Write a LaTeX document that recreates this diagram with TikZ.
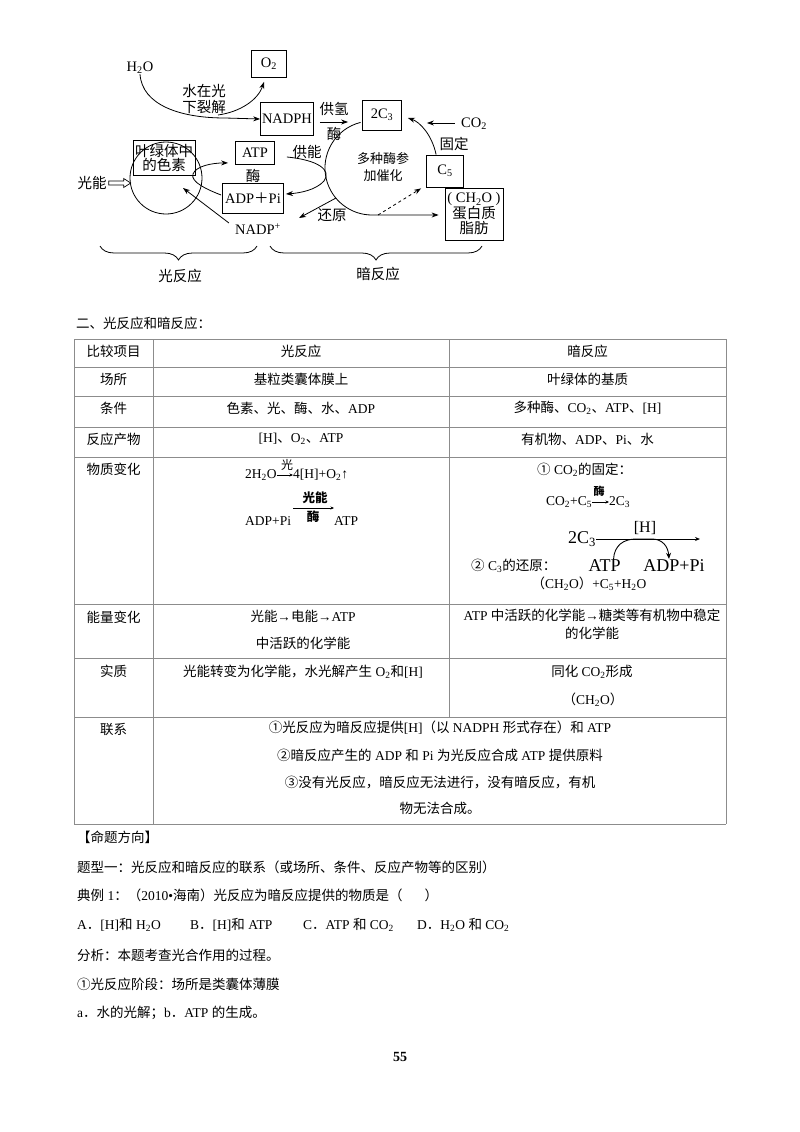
\documentclass[tikz,border=0pt]{standalone}
\usepackage{fontspec}
\setmainfont{Liberation Serif}
\newfontfamily\zh{Noto Sans CJK SC}
\usepackage{tikz}
\usetikzlibrary{arrows.meta, positioning, calc, decorations.pathreplacing}

% switch to the CJK font for Chinese characters automatically
\newcount\zhcnt
\newcommand\zhrange[2]{\zhcnt=#1\relax
  \loop\XeTeXcharclass\zhcnt=200\relax\ifnum\zhcnt<#2\relax\advance\zhcnt by 1\relax\repeat}
\zhrange{"4E00}{"9FFF}
\zhrange{"3000}{"303F}
\zhrange{"FF00}{"FFEF}
\zhrange{"2460}{"24FF}
\XeTeXinterchartoks 0 200 = {\zh}
\XeTeXinterchartoks 4095 200 = {\zh}
\XeTeXinterchartoks 200 0 = {\rmfamily}
\XeTeXinterchartoks 200 4095 = {\rmfamily}
\XeTeXinterchartokenstate=1

\newcommand\diagfont{\fontsize{14.5}{16}\selectfont}
\newcommand\cellfont{\fontsize{13.5}{16}\selectfont}
\newcommand\bigfont{\fontsize{18}{20}\selectfont}

\begin{document}
\begin{tikzpicture}[x=1pt, y=-1pt,
  box/.style={draw, line width=0.8pt, inner sep=0pt, font=\diagfont},
  lbl/.style={inner sep=0pt, font=\diagfont},
  arr/.style={line width=0.8pt, -{Stealth[length=7pt,width=5pt]}},
  thin arr/.style={line width=0.6pt, -{Stealth[length=3.5pt,width=3pt]}},
  cell/.style={inner sep=0pt, font=\cellfont},
  grid/.style={draw=black!45, line width=0.9pt},
  brc/.style={decorate, decoration={brace, mirror, amplitude=14pt}, line width=0.8pt},
]
\fill[white] (0,0) rectangle (800,1132);
\useasboundingbox (0,0) rectangle (800,1132);

% ---- photosynthesis diagram ----
\node[lbl] (h2o) at (140,68) {H\textsubscript{2}O};
\node[box, minimum width=35pt, minimum height=27pt] (o2) at (269,64) {O\textsubscript{2}};
\node[lbl, align=center, font=\fontsize{14.5}{16}\selectfont] (split) at (204,99) {水在光\\下裂解};
\node[box, minimum width=53pt, minimum height=33pt] (nadph) at (287,119) {NADPH};
\node[lbl] (gq) at (334,109) {供氢};
\node[lbl] (gqm) at (334,134) {酶};
\node[box, minimum width=39pt, minimum height=30pt] (c3) at (382,115) {2C\textsubscript{3}};
\node[lbl] (co2) at (474,124) {CO\textsubscript{2}};
\node[lbl] (gd) at (454,144) {固定};
\node[box, minimum width=37pt, minimum height=32pt] (c5) at (445,171) {C\textsubscript{5}};
\node[lbl, align=center, font=\fontsize{13}{16.5}\selectfont] (enz) at (383,167) {多种酶参\\加催化};
\node[box, minimum width=58pt, minimum height=52pt, align=center,
  font=\fontsize{14.5}{15.5}\selectfont] (ch2o) at (474,214) {( CH\textsubscript{2}O )\\蛋白质\\脂肪};
\node[lbl] (hy) at (332,215) {还原};
\node[box, minimum width=39pt, minimum height=23pt] (atp) at (255,153) {ATP};
\node[lbl] (atpm) at (253,176) {酶};
\node[box, minimum width=61pt, minimum height=30pt] (adp) at (253,198) {ADP＋Pi};
\node[lbl] (nadp) at (258,229) {NADP\textsuperscript{+}};
\node[lbl] (gn) at (307,152) {供能};
\node[draw, circle, minimum size=72pt, line width=0.8pt] (pig) at (166,178) {};
\node[box, minimum width=62pt, minimum height=35pt, align=center,
  font=\fontsize{14.5}{14}\selectfont] (pigtxt) at (164,157.5) {叶绿体中\\的色素};
\node[lbl] (light) at (92,183) {光能};

\draw[arr] (h2o.south) .. controls (142,105) and (180,118) .. (225,118) -- (nadph.west);
\draw[arr] (218,115) .. controls (240,112) and (258,100) .. ($(o2.south)+(-5,4)$);
\draw[arr] ($(nadph.east)+(6,3)$) -- ($(c3.west)+(-14,7)$);
\draw[arr] ($(co2.west)+(-6,-1)$) -- ($(c3.east)+(25,8)$);
\draw[arr] ($(c5.north west)+(10,0)$) .. controls (432,135) and (420,122) .. ($(c3.east)+(6,3)$);
\draw[arr] (360.6,122.4) arc[start angle=256, end angle=90, radius=47] -- ($(ch2o.west)+(-6,1)$);
\coordinate (dsh) at (378,215);
\draw[arr, dashed] (dsh) -- ($(c5.south west)+(-5,1)$);
\draw[arr] (336,198) -- ($(nadp.east)+(18,-11)$);
\draw[arr] ($(atp.east)+(12,4)$) .. controls (318,160) and (332,170) .. (324,181)
  .. controls (316,190) and (300,193) .. ($(adp.east)+(2,-4)$);
\draw[arr] ($(adp.west)+(-1,-3)$) .. controls (208,190) and (190,182) .. (193,174)
  .. controls (196,166) and (212,163) .. ($(atp.south west)+(-7,-2)$);
\draw[arr] ($(nadp.west)+(-6,-6)$) -- ($(pig.center)+(17,10)$);
% hollow arrow for light
\coordinate (la) at ($(light.east)+(2,0)$);
\draw[line width=0.7pt, line join=miter] (la) ++(0,-2) -- ++(15,0) -- ++(0,-2.5) -- ++(7,4.5)
  -- ++(-7,4.5) -- ++(0,-2.5) -- ++(-15,0) -- cycle;

\draw[brc] (100,246) -- (257,246);
\draw[brc] (270,246) -- (482,246);
\node[lbl] (lr) at (180,276) {光反应};
\node[lbl] (dr) at (378,274) {暗反应};

% ---- comparison table ----
\node[cell, anchor=west] (sec) at (76,323) {二、光反应和暗反应：};
\foreach \y in {339,367,396,427,457,604,658,717,824}
  \draw[grid] (74,\y) -- (726,\y);
\draw[grid] (74,339) -- (74,824);
\draw[grid] (153,339) -- (153,824);
\draw[grid] (449,339) -- (449,717);
\draw[grid] (726,339) -- (726,824);

\foreach \n/\y/\txt in {hd/351/比较项目, cs/379/场所, tj/408/条件, cw/439/反应产物,
    wz/469/物质变化, nl/617/能量变化, sz/671/实质, lx/729/联系}
  \node[cell] (k\n) at (113.5,\y) {\txt};

\node[cell] (hdl) at (301,351) {光反应};
\node[cell] (hdd) at (587.5,351) {暗反应};
\node[cell] (csl) at (301,379) {基粒类囊体膜上};
\node[cell] (csd) at (587.5,379) {叶绿体的基质};
\node[cell] (tjl) at (301,408) {色素、光、酶、水、ADP};
\node[cell] (tjd) at (587.5,408) {多种酶、CO\textsubscript{2}、ATP、[H]};
\node[cell] (cwl) at (301,439) {[H]、O\textsubscript{2}、ATP};
\node[cell] (cwd) at (587.5,439) {有机物、ADP、Pi、水};

% light side equations
\node[cell, anchor=west] (w1a) at (245,475) {2H\textsubscript{2}O};
\node[cell, anchor=west] (w1b) at (293,475) {4[H]+O\textsubscript{2}↑};
\node[inner sep=0pt, font=\fontsize{12}{12}\selectfont] (w1c) at (287,465) {光};
\draw[thin arr] (w1a.east) -- (w1b.west);
\node[cell, anchor=west] (w2a) at (245,521) {ADP+Pi};
\node[cell, anchor=west] (w2b) at (334,521) {ATP};
\node[inner sep=0pt, font=\fontsize{12.5}{12}\bfseries] (w2c) at (315,498) {光能};
\node[inner sep=0pt, font=\fontsize{12.5}{12}\bfseries] (w2d) at (313,517) {酶};
\draw[thin arr] (293,508) -- (334,508);

% dark side equations
\node[cell, anchor=west] (d1) at (537,470) {① CO\textsubscript{2}的固定：};
\node[cell, anchor=west] (d2a) at (546,502) {CO\textsubscript{2}+C\textsubscript{5}};
\node[cell, anchor=west] (d2b) at (609,502) {2C\textsubscript{3}};
\node[inner sep=0pt, font=\fontsize{11}{11}\bfseries] (d2c) at (599,491) {酶};
\draw[thin arr] (d2a.east) -- (d2b.west);
\node[inner sep=0pt, font=\bigfont, anchor=west] (d3a) at (568,539) {2C\textsubscript{3}};
\node[inner sep=0pt, font=\fontsize{16}{16}\selectfont] (d3h) at (645,528) {[H]};
\draw[line width=1pt, -{Stealth[length=5pt,width=4pt]}] (d3a.east) -- (700,539);
\node[cell, anchor=west] (d4) at (471,566) {② C\textsubscript{3}的还原：};
\node[inner sep=0pt, font=\bigfont] (d4a) at (604.5,566) {ATP};
\node[inner sep=0pt, font=\bigfont] (d4b) at (674,566) {ADP+Pi};
\draw[line width=0.9pt, -{Stealth[length=6pt,width=5pt]}] ($(d4a.north)+(9,0)$)
  .. controls (614,545) and (624,539) .. (636,539) -- (652,539)
  .. controls (662,539) and (668,546) .. ($(d4b.north)+(-5,-1)$);
\node[cell] (d5) at (589,584) {（CH\textsubscript{2}O）+C\textsubscript{5}+H\textsubscript{2}O};

\node[cell] (nl1) at (303,616) {光能→电能→ATP};
\node[cell] (nl2) at (303,643) {中活跃的化学能};
\node[cell] (nd1) at (592,615) {ATP 中活跃的化学能→糖类等有机物中稳定};
\node[cell] (nd2) at (592,633) {的化学能};
\node[cell] (sl) at (303,672) {光能转变为化学能，水光解产生 O\textsubscript{2}和[H]};
\node[cell] (sd1) at (592,672) {同化 CO\textsubscript{2}形成};
\node[cell] (sd2) at (593,700) {（CH\textsubscript{2}O）};

\node[cell] (lx1) at (440,728) {①光反应为暗反应提供[H]（以 NADPH 形式存在）和 ATP};
\node[cell] (lx2) at (440,755) {②暗反应产生的 ADP 和 Pi 为光反应合成 ATP 提供原料};
\node[cell] (lx3) at (440,782) {③没有光反应，暗反应无法进行，没有暗反应，有机};
\node[cell] (lx4) at (440,808) {物无法合成。};

% ---- text below ----
\node[cell, anchor=west] (t1) at (77,837) {【命题方向】};
\node[cell, anchor=west] (t2) at (77,867) {题型一：光反应和暗反应的联系（或场所、条件、反应产物等的区别）};
\node[cell, anchor=west] (t3) at (77,895) {典例 1：（2010•海南）光反应为暗反应提供的物质是（\hspace{22pt}）};
\node[cell, anchor=west] (oa) at (77,925) {A．[H]和 H\textsubscript{2}O};
\node[cell, anchor=west] (ob) at (190,925) {B．[H]和 ATP};
\node[cell, anchor=west] (oc) at (303,925) {C．ATP 和 CO\textsubscript{2}};
\node[cell, anchor=west] (od) at (417,925) {D．H\textsubscript{2}O 和 CO\textsubscript{2}};
\node[cell, anchor=west] (t4) at (77,955) {分析：本题考查光合作用的过程。};
\node[cell, anchor=west] (t5) at (77,984) {①光反应阶段：场所是类囊体薄膜};
\node[cell, anchor=west] (t6) at (77,1013) {a．水的光解；b．ATP 的生成。};
\node[inner sep=0pt, font=\fontsize{14}{14}\bfseries] (pg) at (400,1057) {55};
\end{tikzpicture}
\end{document}
